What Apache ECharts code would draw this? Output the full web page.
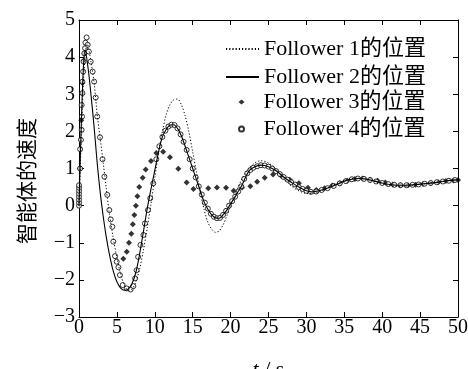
<!DOCTYPE html>
<html><head><meta charset="utf-8">
<script src="https://cdn.jsdelivr.net/npm/echarts@6/dist/echarts.min.js"></script>
<style>html,body{margin:0;padding:0;background:#fff}#c{width:468px;height:369px}</style>
</head><body><div id="c"></div>
<script>
const seriesNames = ['Follower 1的位置', 'Follower 2的位置', 'Follower 3的位置', 'Follower 4的位置'];
const xTicks = [0, 5, 10, 15, 20, 25, 30, 35, 40, 45, 50];
const yTicks = [-3, -2, -1, 0, 1, 2, 3, 4, 5];

const follower1 = [[0,0],[0.3,1.8],[0.6,3.4],[0.9,4.2],[1.1,4.35],[1.3,4.2],[1.6,3.85],[2.0,3.3],[2.4,2.45],[2.8,1.8],[3.2,1.15],[3.6,0.45],[4.0,-0.2],[4.5,-0.85],[5.0,-1.4],[5.5,-1.85],[6.0,-2.15],[6.5,-2.28],[7.0,-2.25],[7.5,-2.05],[8.0,-1.7],[8.5,-1.2],[9.0,-0.6],[9.5,0.05],[10,0.75],[10.5,1.45],[11,2.0],[11.5,2.45],[12,2.72],[12.5,2.85],[13,2.87],[13.5,2.72],[14,2.42],[14.5,1.98],[15,1.45],[15.5,0.9],[16,0.35],[16.5,-0.1],[17,-0.45],[17.5,-0.63],[18,-0.72],[18.5,-0.68],[19,-0.52],[19.5,-0.28],[20,0.0],[20.5,0.25],[21,0.5],[21.5,0.72],[22,0.9],[23,1.12],[24,1.21],[25,1.15],[26,0.97],[27,0.74],[28,0.53],[29,0.4],[30,0.33],[31,0.33],[32,0.4],[33,0.5],[34,0.6],[35,0.68],[36,0.73],[37,0.74],[38,0.71],[39,0.65],[40,0.59],[41,0.54],[42,0.52],[43,0.52],[44,0.54],[45,0.57],[46,0.6],[47,0.63],[48,0.66],[49,0.68],[50,0.69]];

const follower2 = [[0,0],[0.2,1.5],[0.4,2.8],[0.6,3.8],[0.8,4.2],[1.2,3.7],[1.6,2.95],[2.0,2.1],[2.4,1.15],[2.8,0.35],[3.2,-0.3],[3.6,-0.85],[4.0,-1.3],[4.5,-1.75],[5.0,-2.05],[5.5,-2.22],[6.0,-2.28],[6.5,-2.25],[7.0,-2.1],[7.5,-1.8],[8.0,-1.3],[8.5,-0.7],[9.0,-0.08],[9.5,0.45],[10,0.95],[10.5,1.45],[11,1.85],[11.5,2.05],[12,2.17],[12.5,2.18],[13,2.08],[13.5,1.88],[14,1.6],[14.5,1.3],[15,1.0],[15.5,0.7],[16,0.4],[16.5,0.1],[17,-0.1],[17.5,-0.25],[18,-0.33],[18.5,-0.34],[19,-0.25],[19.5,-0.12],[20,0.05],[20.5,0.2],[21,0.38],[21.5,0.55],[22,0.78],[22.5,0.95],[23,1.03],[24,1.09],[25,1.05],[26,0.94],[27,0.77],[28,0.63],[29,0.5],[30,0.4],[30.7,0.37],[32,0.42],[33,0.49],[34,0.57],[35,0.66],[36,0.71],[37,0.73],[38,0.71],[39,0.66],[40,0.61],[41,0.57],[42,0.55],[43,0.55],[44,0.56],[45,0.58],[46,0.6],[47,0.62],[48,0.65],[49,0.68],[50,0.7]];

const follower3 = [[0.1,1.0],[0.3,2.3],[0.45,3.3],[0.6,3.9],[0.75,4.1],[5.85,-1.43],[6.3,-1.24],[6.6,-1.0],[6.9,-0.76],[7.1,-0.5],[7.3,-0.25],[7.5,0.0],[7.7,0.25],[7.95,0.5],[8.4,0.75],[8.8,0.97],[9.5,1.2],[10.2,1.42],[11.1,1.45],[12.0,1.3],[13.1,0.99],[14.2,0.62],[15.1,0.45],[17.05,0.47],[18.2,0.49],[19.4,0.48],[20.4,0.4],[21.5,0.49],[22.6,0.52],[23.5,0.64],[24.5,0.75],[25.6,0.84],[26.7,0.8],[27.8,0.7],[29.0,0.6],[30.2,0.48],[31.3,0.42],[32.4,0.47],[33.4,0.54],[34.4,0.6],[35.4,0.67],[36.4,0.72],[37.4,0.73],[38.4,0.7],[39.4,0.67],[40.4,0.62],[41.4,0.57],[42.4,0.55],[43.4,0.55],[44.4,0.56],[45.4,0.58],[46.4,0.6],[47.4,0.63],[48.4,0.66],[49.4,0.68],[50,0.69]];

const follower4 = [[0,0],[0,0.08],[0,0.16],[0,0.24],[0,0.32],[0,0.4],[0,0.48],[0,0.55],[0.15,1.0],[0.15,1.52],[0.25,1.77],[0.35,2.04],[0.4,2.4],[0.35,2.71],[0.45,3.03],[0.45,3.34],[0.55,3.61],[0.6,3.88],[0.7,4.1],[0.8,4.24],[0.85,4.39],[1.0,4.53],[1.15,4.33],[1.3,4.15],[1.54,3.88],[1.8,3.61],[2.0,3.34],[2.2,2.91],[2.4,2.4],[2.77,1.84],[3.1,1.25],[3.35,0.78],[3.73,0.29],[4.0,-0.12],[4.18,-0.37],[4.4,-0.57],[4.53,-0.97],[4.75,-1.36],[4.97,-1.51],[5.2,-1.66],[5.4,-1.87],[5.76,-2.14],[6.3,-2.23],[6.8,-2.26],[7.17,-2.17],[7.4,-1.96],[7.6,-1.74],[7.8,-1.38],[8.1,-1.06],[8.5,-0.79],[8.7,-0.48],[9.1,-0.12],[9.4,0.2],[9.8,0.6],[10.2,1.25],[10.6,1.6],[11.0,1.85],[11.4,2.02],[11.8,2.13],[12.2,2.18],[12.6,2.17],[13.0,2.08],[13.4,1.92],[13.8,1.72],[14.2,1.5],[14.6,1.25],[15.0,1.0],[15.4,0.76],[15.8,0.52],[16.2,0.3],[16.6,0.08],[17.0,-0.08],[17.4,-0.22],[17.8,-0.3],[18.2,-0.34],[18.6,-0.33],[19.0,-0.25],[19.4,-0.14],[19.8,0.0],[20.2,0.12],[20.6,0.24],[21.0,0.38],[21.4,0.52],[21.8,0.72],[22.2,0.87],[22.6,0.96],[23.0,1.02],[23.5,1.06],[24.0,1.09],[24.5,1.08],[25.0,1.05],[25.5,1.0],[26.0,0.93],[26.5,0.85],[27.0,0.77],[27.5,0.7],[28.0,0.63],[28.5,0.57],[29.0,0.5],[29.5,0.45],[30.0,0.4],[30.6,0.37],[31.3,0.38],[32.0,0.42],[32.8,0.47],[33.6,0.53],[34.4,0.6],[35.2,0.66],[36.0,0.71],[36.8,0.73],[37.6,0.72],[38.4,0.69],[39.2,0.65],[40.0,0.61],[40.8,0.58],[41.6,0.56],[42.4,0.55],[43.2,0.55],[44.0,0.56],[44.8,0.57],[45.6,0.59],[46.4,0.61],[47.2,0.63],[48.0,0.65],[48.8,0.67],[49.6,0.69]];

const serif = '"Liberation Serif", "Noto Sans CJK SC", serif';
const chart = echarts.init(document.getElementById('c'), null, {renderer: 'canvas'});
const fmtNum = v => v < 0 ? '\u2212' + Math.abs(v) : String(v);
const axisBase = {
  type: 'value', splitLine: {show: false},
  axisLine: {show: true, onZero: false, lineStyle: {color: '#000', width: 1}},
  axisTick: {show: true, inside: true, length: 5, lineStyle: {color: '#000', width: 1}}
};
const legendText = {color: '#000', fontFamily: serif, fontSize: 22};
chart.setOption({
  animation: false,
  backgroundColor: '#fff',
  textStyle: {fontFamily: serif, color: '#000'},
  grid: {left: 79, right: 10, top: 20, bottom: 52, outerBoundsMode: 'none', containLabel: false},
  xAxis: [
    Object.assign({}, axisBase, {min: xTicks[0], max: xTicks[xTicks.length-1], interval: 5, position: 'bottom',
      axisLabel: {color: '#000', fontFamily: serif, fontSize: 20, margin: 1, formatter: fmtNum},
      name: '{i|t} / s', nameLocation: 'middle', nameGap: 42,
      nameTextStyle: {color: '#000', fontFamily: serif, fontSize: 22, rich: {i: {fontStyle: 'italic', fontFamily: serif, fontSize: 22, color: '#000'}}}}),
    Object.assign({}, axisBase, {min: 0, max: 50, interval: 5, position: 'top', axisLabel: {show: false}})
  ],
  yAxis: [
    Object.assign({}, axisBase, {min: yTicks[0], max: yTicks[yTicks.length-1], interval: 1, position: 'left',
      axisLabel: {color: '#000', fontFamily: serif, fontSize: 20, margin: 4, formatter: fmtNum}}),
    Object.assign({}, axisBase, {min: -3, max: 5, interval: 1, position: 'right', axisLabel: {show: false}})
  ],
  legend: [
    {data: [seriesNames[0], seriesNames[1]], orient: 'vertical', left: 220, top: 33, itemWidth: 33, itemHeight: 10, itemGap: 6,
     itemStyle: {opacity: 0},
     textStyle: Object.assign({padding: [0,0,0,0]}, legendText)},
    {data: [seriesNames[2], seriesNames[3]], orient: 'vertical', left: 233, top: 86, itemWidth: 6, itemHeight: 5, itemGap: 5,
     textStyle: Object.assign({padding: [0,0,0,14]}, legendText)}
  ],
  graphic: [{type: 'text', x: 26, y: 181, rotation: Math.PI/2,
    style: {text: '智能体的速度', font: '21px "Noto Sans CJK SC", sans-serif', fill: '#000', textAlign: 'center', textVerticalAlign: 'middle'}}],
  series: [
    {name: seriesNames[0], type: 'line', data: follower1, symbol: 'none', smooth: 0.3,
     lineStyle: {color: '#000', width: 1, type: [1.2, 2]}, itemStyle: {color: '#000'}},
    {name: seriesNames[1], type: 'line', data: follower2, symbol: 'none', smooth: 0.3,
     lineStyle: {color: '#000', width: 1.1}, itemStyle: {color: '#000'}},
    {name: seriesNames[2], type: 'scatter', data: follower3, symbol: 'diamond', symbolSize: 6,
     itemStyle: {color: '#000'}},
    {name: seriesNames[3], type: 'scatter', data: follower4, symbol: 'circle', symbolSize: 5,
     itemStyle: {color: '#fff', borderColor: '#000', borderWidth: 1}}
  ]
});
</script></body></html>
